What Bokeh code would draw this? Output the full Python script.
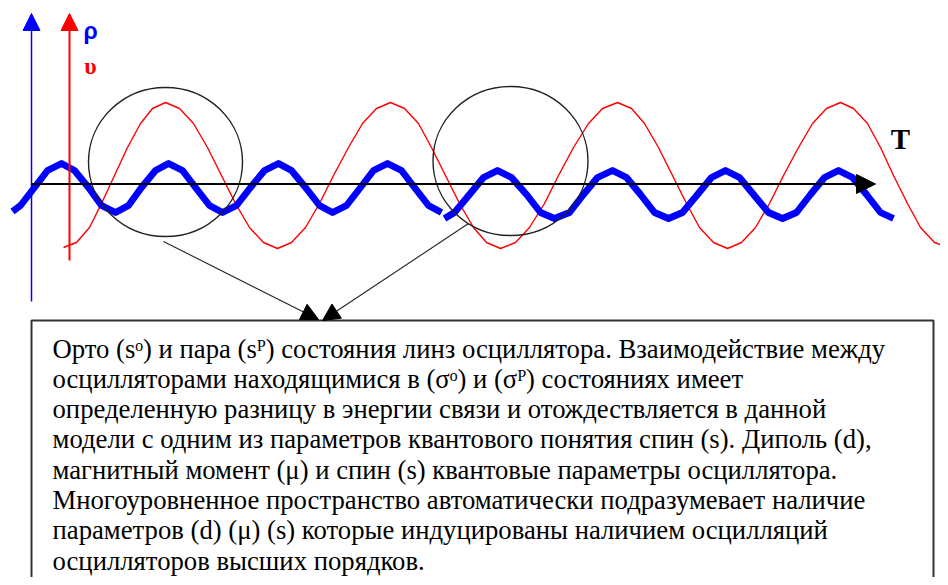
from bokeh.plotting import figure
from bokeh.models import Range1d, Arrow, NormalHead
from bokeh.core.properties import value
from bokeh.embed import file_html
from bokeh.resources import INLINE

# ---- data (diagram units = pixels of the reference picture, y grows downward) ----
# thick blue wave (rho), first part
blue1_x = [12, 20, 34, 47, 61, 74, 88, 101, 115, 128, 141, 155, 168, 182, 195, 209,
           222, 236, 250, 264, 278, 291, 305, 319, 332, 346, 360, 373, 387, 401, 414, 428, 441]
blue1_y = [211, 205, 187, 170, 163, 170, 187, 205, 212, 205, 187, 170, 163, 170, 187, 205,
           212, 205, 187, 170, 163, 170, 187, 205, 212, 205, 187, 170, 163, 170, 187, 205, 212]
# thick blue wave (rho), second part (shifted)
blue2_x = [444, 454, 469, 483, 497, 511, 526, 540, 554, 569, 583, 597, 612, 626, 640, 654,
           668, 682, 697, 711, 725, 739, 753, 768, 782, 796, 810, 824, 838, 852, 866, 880, 893]
blue2_y = [218, 212, 194, 177, 170, 177, 194, 212, 218, 212, 194, 177, 170, 177, 194, 212,
           218, 212, 194, 177, 170, 177, 194, 212, 218, 212, 194, 177, 170, 177, 194, 212, 218]
# thin red wave (upsilon)
red_x = [63, 76, 89, 101, 114, 127, 140, 152, 165,
         179, 193, 207, 221, 235, 249, 263, 277,
         291, 305, 319, 333, 348, 362, 376, 390,
         404, 418, 431, 445, 459, 473, 486, 500,
         515, 529, 544, 558, 573, 588, 602, 617,
         631, 644, 658, 672, 686, 699, 713, 727,
         741, 755, 769, 783, 798, 812, 826, 840,
         853, 867, 880, 893, 907, 920, 934, 947]
red_y = [247, 242, 227, 203, 175, 147, 123, 108, 102,
         108, 123, 147, 175, 203, 227, 242, 248,
         242, 227, 203, 175, 147, 123, 108, 102,
         108, 123, 147, 175, 203, 227, 242, 248,
         242, 227, 203, 175, 147, 123, 108, 102,
         108, 123, 147, 175, 203, 227, 242, 248,
         242, 227, 203, 175, 147, 123, 108, 102,
         108, 123, 147, 175, 203, 227, 242, 247]
# highlighted regions (circles): centre x, centre y, width, height
circle_cx = [165, 510]
circle_cy = [161.5, 160.5]
circle_w = [154, 155]
circle_h = [149, 149]
# pointer arrows from circles to the text box
ptr_x0 = [163, 468]
ptr_y0 = [241, 223]
ptr_x1 = [318, 322]
ptr_y1 = [319, 320]

text_lines = [
    "Орто (sᵒ) и пара (sᴾ) состояния линз  осциллятора. Взаимодействие между",
    "осцилляторами находящимися в (σᵒ) и (σᴾ) состояниях имеет",
    "определенную разницу в энергии связи и отождествляется в данной",
    "модели  с одним из параметров квантового понятия спин (s). Диполь (d),",
    "магнитный момент (μ) и спин (s) квантовые параметры осциллятора.",
    "Многоуровненное пространство автоматически подразумевает наличие",
    "параметров (d) (μ) (s) которые индуцированы наличием осцилляций",
    "осцилляторов высших порядков.",
]

p = figure(width=940, height=577, x_range=Range1d(0, 940), y_range=Range1d(577, 0),
           output_backend="svg", toolbar_location=None, min_border=0,
           background_fill_color="white", border_fill_color="white")
p.axis.visible = False
p.grid.visible = False
p.outline_line_color = None

# vertical axes
p.add_layout(Arrow(end=NormalHead(size=17, fill_color="#0000ff", line_color="#0000ff"),
                   x_start=31, y_start=301, x_end=31, y_end=13,
                   line_color="#0000ff", line_width=1.5))
p.add_layout(Arrow(end=NormalHead(size=17, fill_color="#ff0000", line_color="#ff0000"),
                   x_start=69, y_start=260, x_end=69, y_end=13,
                   line_color="#ff0000", line_width=2))

# waves
p.line(red_x, red_y, line_color="#ff0000", line_width=1.4)
p.line(blue1_x, blue1_y, line_color="#0000ff", line_width=6.8, line_join="round")
p.line(blue2_x, blue2_y, line_color="#0000ff", line_width=6.8, line_join="round")

# horizontal time axis
p.add_layout(Arrow(end=NormalHead(size=19, fill_color="black", line_color="black"),
                   x_start=31, y_start=183.5, x_end=875, y_end=183.5,
                   line_color="black", line_width=2))

# circles
p.ellipse(x=circle_cx, y=circle_cy, width=circle_w, height=circle_h,
          fill_color=None, line_color="#222222", line_width=1.4)

# pointers
for i in range(len(ptr_x0)):
    p.add_layout(Arrow(end=NormalHead(size=17, fill_color="black", line_color="black"),
                       x_start=ptr_x0[i], y_start=ptr_y0[i], x_end=ptr_x1[i], y_end=ptr_y1[i],
                       line_color="#222222", line_width=1.1))

# text box
p.quad(left=[31], right=[933], top=[320], bottom=[620], fill_color=None,
       line_color="#333333", line_width=2)

line_y = [348 + 30.3 * i for i in range(len(text_lines))]
p.text(x=[52] * len(text_lines), y=line_y, text=text_lines,
       text_font=value("Liberation Serif"), text_font_size="26.7px",
       text_baseline="middle", text_align="left", text_color="black")

# axis labels
p.text(x=[90], y=[30], text=["ρ"], text_font=value("Liberation Sans"), text_font_style="bold",
       text_font_size="23px", text_color="#0000ff", text_align="center", text_baseline="middle")
p.text(x=[90], y=[65], text=["υ"], text_font=value("Liberation Serif"), text_font_style="bold",
       text_font_size="24px", text_color="#ff0000", text_align="center", text_baseline="middle")
p.text(x=[900], y=[138], text=["T"], text_font=value("Liberation Serif"), text_font_style="bold",
       text_font_size="29px", text_color="black", text_align="center", text_baseline="middle")

open("out.html", "w").write(file_html(p, INLINE))
